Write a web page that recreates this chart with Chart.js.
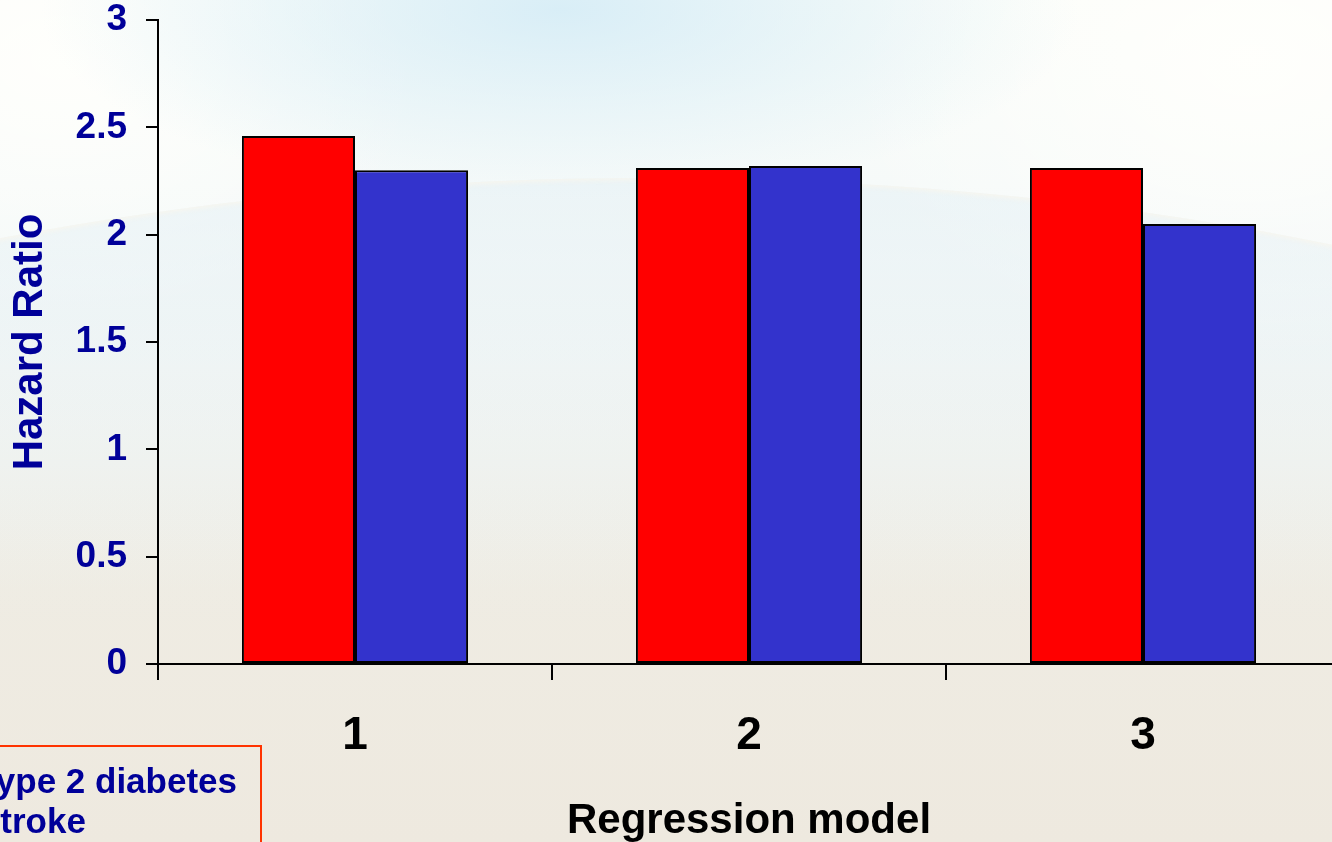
<!DOCTYPE html>
<html>
<head>
<meta charset="utf-8">
<title>Hazard Ratio by regression model</title>
<script src="https://cdn.jsdelivr.net/npm/chart.js@4/dist/chart.umd.min.js"></script>
<style>
  html, body {
    margin: 0;
    padding: 0;
    width: 1332px;
    height: 842px;
    overflow: hidden;
  }
  body {
    position: relative;
    font-family: "Liberation Sans", Arial, sans-serif;
    background:
      radial-gradient(ellipse 520px 190px at 560px 10px, rgba(208,234,246,0.8), rgba(208,234,246,0) 100%),
      radial-gradient(ellipse 380px 260px at 60px 60px, rgba(255,255,252,0.9), rgba(255,255,252,0) 100%),
      radial-gradient(ellipse 420px 300px at 1250px 60px, rgba(255,255,252,0.95), rgba(255,255,252,0) 100%),
      linear-gradient(to bottom, #fbfdf9 0%, #f6faf9 22%, #f1f6f6 40%, #f0f2ee 55%, #efece3 70%, #eee9df 100%);
  }
  /* soft curved band across the backdrop */
  #swoosh {
    position: absolute;
    left: -950px;
    top: 178px;
    width: 3200px;
    height: 1400px;
    border-radius: 50%;
    background: linear-gradient(to bottom, rgba(228,240,245,0.55) 0%, rgba(234,242,244,0.3) 14%, rgba(238,236,226,0) 32%);
    box-shadow: inset 0 4px 5px -2px rgba(250,246,236,0.8);
  }
  #wrap {
    position: absolute;
    left: 0;
    top: 0;
    width: 1360px;
    height: 842px;
  }
  #legend {
    position: absolute;
    left: -62px;
    top: 745px;
    width: 320px;
    height: 140px;
    border: 2px solid #ff3300;
    box-sizing: content-box;
    padding-top: 14px;
  }
  #legend .row {
    display: flex;
    align-items: center;
    height: 40px;
    line-height: 40px;
    font-size: 35px;
    font-weight: bold;
    color: #000099;
    white-space: nowrap;
  }
  #legend .sw {
    width: 18px;
    height: 18px;
    margin-left: 8px;
    margin-right: 11px;
    border: 1px solid #000;
    box-sizing: border-box;
    flex: none;
  }
</style>
</head>
<body>
<div id="swoosh"></div>
<div id="wrap"><canvas id="chart" width="1360" height="842"></canvas></div>
<div id="legend"></div>
<script>
// Hazard ratios per regression model
const categories = ['1', '2', '3'];
const diabetesHR = [2.46, 2.31, 2.31];
const strokeHR = [2.30, 2.32, 2.05];
const seriesNames = ['Type 2 diabetes', 'Stroke'];
const seriesColors = ['#ff0000', '#3333cc'];
const yTicks = [0, 0.5, 1, 1.5, 2, 2.5, 3];

const FONT = '"Liberation Sans", Arial, sans-serif';
const NAVY = '#000099';

const chart = new Chart(document.getElementById('chart'), {
  type: 'bar',
  data: {
    labels: categories,
    datasets: [
      {
        label: seriesNames[0],
        data: diabetesHR,
        backgroundColor: seriesColors[0],
        borderColor: '#000000',
        borderWidth: 2,
        borderSkipped: false,
        categoryPercentage: 0.574,
        barPercentage: 1.0
      },
      {
        label: seriesNames[1],
        data: strokeHR,
        backgroundColor: seriesColors[1],
        borderColor: '#000000',
        borderWidth: 2,
        borderSkipped: false,
        categoryPercentage: 0.574,
        barPercentage: 1.0
      }
    ]
  },
  options: {
    responsive: false,
    animation: false,
    devicePixelRatio: 1,
    layout: { padding: { left: 0, right: 20, top: 20, bottom: 0 } },
    plugins: {
      legend: { display: false },
      tooltip: { enabled: false }
    },
    scales: {
      x: {
        offset: true,
        grid: {
          offset: true,
          drawOnChartArea: false,
          drawTicks: true,
          tickLength: 16,
          color: '#000000',
          lineWidth: 2
        },
        border: { display: true, color: '#000000', width: 2 },
        ticks: {
          color: '#000000',
          padding: 29,
          font: { family: FONT, size: 46, weight: 'bold', lineHeight: 1.2 }
        },
        title: {
          display: true,
          text: 'Regression model',
          color: '#000000',
          padding: { top: 0, bottom: 0 },
          font: { family: FONT, size: 42, weight: 'bold', lineHeight: 1.0 }
        },
        afterFit: (scale) => {
          scale.height = 178;
          scale.paddingLeft = 0;
          scale.paddingRight = 0;
        }
      },
      y: {
        min: 0,
        max: 3,
        afterBuildTicks: (scale) => {
          scale.ticks = yTicks.map(v => ({ value: v }));
        },
        grid: {
          drawOnChartArea: false,
          drawTicks: true,
          tickLength: 12,
          color: '#000000',
          lineWidth: 2
        },
        border: { display: true, color: '#000000', width: 2 },
        ticks: {
          color: NAVY,
          padding: 19,
          font: { family: FONT, size: 37, weight: 'bold', lineHeight: 1.0 },
          callback: (v) => String(v)
        },
        title: {
          display: true,
          text: 'Hazard Ratio',
          color: NAVY,
          padding: { top: 9, bottom: 0 },
          font: { family: FONT, size: 42, weight: 'bold', lineHeight: 1.0 }
        },
        afterFit: (scale) => {
          scale.width = 158;
          scale.paddingTop = 0;
          scale.paddingBottom = 0;
        }
      }
    }
  }
});

// Boxed legend built from the chart's own datasets
const legendEl = document.getElementById('legend');
chart.data.datasets.forEach((ds) => {
  const row = document.createElement('div');
  row.className = 'row';
  const sw = document.createElement('span');
  sw.className = 'sw';
  sw.style.background = ds.backgroundColor;
  const txt = document.createElement('span');
  txt.textContent = ds.label;
  row.appendChild(sw);
  row.appendChild(txt);
  legendEl.appendChild(row);
});
</script>
</body>
</html>
